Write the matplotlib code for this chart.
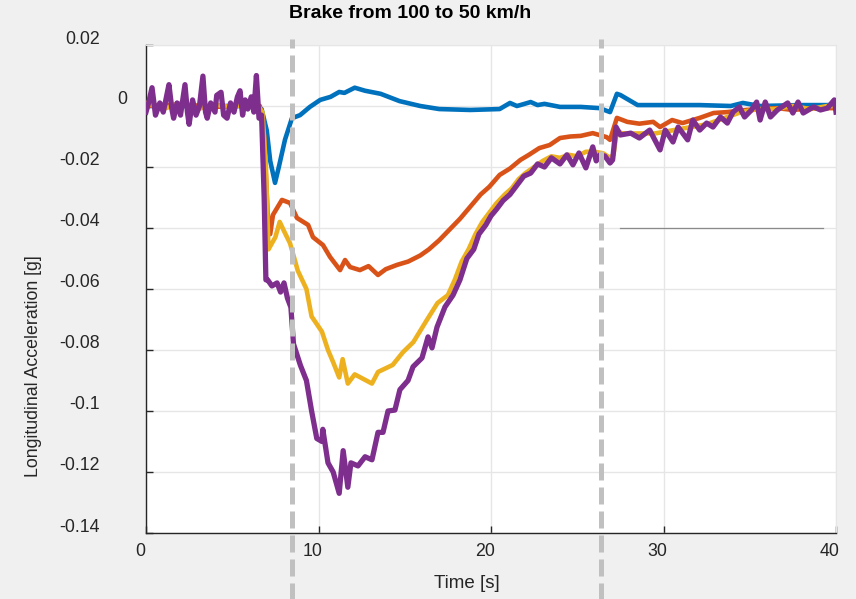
import matplotlib
matplotlib.use('Agg')
import matplotlib.pyplot as plt
import matplotlib.transforms as mtransforms

plt.rcParams['font.family'] = ['Liberation Sans', 'DejaVu Sans']

# ---- data ----
t_blue = [0, 3, 6.3, 6.7, 7.0, 7.2, 7.48, 7.7, 8.06, 8.46, 8.93, 9.5, 10.1, 10.7, 11.2,
          11.5, 12.1, 12.7, 13.6, 14.7, 15.9, 17.0, 18.8, 20.5, 21.1, 21.5, 21.7, 22.3,
          22.7, 23.1, 24.0, 25.2, 26.3, 26.9, 27.3, 27.5, 28.5, 29.8, 32.1, 33.9, 34.6,
          35.6, 37.9, 40]
g_blue = [0.0, 0.0, 0.0, -0.001, -0.008, -0.018, -0.0252, -0.020, -0.011, -0.004, -0.003,
          -0.0003, 0.002, 0.003, 0.0046, 0.0043, 0.006, 0.005, 0.004, 0.0016, 0.0, -0.001,
          -0.0013, -0.001, 0.001, 0.0, 0.0003, 0.0013, 0.0003, 0.0007, -0.0003, -0.0003,
          -0.0007, -0.002, 0.004, 0.0036, 0.0003, 0.0003, 0.0003, 0.0, 0.001, 0.0, 0.0003,
          0.0003]

t_orange = [0, 2, 4, 6, 6.6, 6.85, 7.05, 7.2, 7.36, 7.88, 8.35, 8.75, 9.4, 9.68, 10.26,
            10.67, 11.25, 11.54, 11.83, 12.4, 12.9, 13.45, 13.9, 14.55, 15.2, 15.9, 16.4,
            17.0, 17.6, 18.2, 18.8, 19.4, 19.9, 20.5, 21.1, 21.7, 22.2, 22.8, 23.4, 24.0,
            24.6, 25.2, 25.9, 26.7, 26.9, 27.3, 27.9, 28.6, 29.4, 29.8, 30.5, 31.1, 32.1,
            32.9, 33.7, 34.8, 35.7, 36.6, 37.5, 38.5, 39.5, 40]
g_orange = [0.0, 0.0005, -0.0003, 0.0003, 0.0, -0.01, -0.035, -0.042, -0.0357, -0.0308,
            -0.0318, -0.0367, -0.0390, -0.0430, -0.0456, -0.0495, -0.0538, -0.0505, -0.0528,
            -0.0538, -0.0525, -0.0554, -0.0535, -0.0521, -0.0510, -0.0490, -0.0470, -0.0440,
            -0.0405, -0.0370, -0.0330, -0.0290, -0.0265, -0.0226, -0.0205, -0.0177, -0.0160,
            -0.0138, -0.0128, -0.0105, -0.0100, -0.0098, -0.0089, -0.0102, -0.0111, -0.0039,
            -0.0052, -0.0058, -0.0052, -0.0069, -0.0046, -0.0056, -0.0039, -0.0023, -0.0020,
            -0.0013, -0.0010, -0.0007, -0.0013, -0.0008, -0.0007, -0.0007]

t_yellow = [0, 1, 2, 3, 4, 5, 6, 6.5, 6.75, 6.95, 7.1, 7.2, 7.5, 7.75, 8.0, 8.35, 8.8, 9.3,
            9.6, 10.2, 10.55, 10.85, 11.2, 11.4, 11.7, 12.1, 12.7, 13.1, 13.45, 14.3, 14.9,
            15.5, 16.3, 16.9, 17.5, 17.9, 18.3, 18.7, 19.1, 19.5, 19.9, 20.3, 20.8, 21.2,
            21.6, 22.0, 22.5, 23.0, 23.5, 24.0, 24.5, 25.0, 25.5, 26.0, 26.5, 26.9, 27.1,
            27.3, 27.6, 28.5, 29.5, 30.5, 31.5, 32.5, 33.5, 34.5, 35.5, 36.5, 37.5, 38.5,
            39.5, 40]
g_yellow = [0.001, -0.001, 0.001, -0.001, 0.0005, -0.0005, 0.001, 0.0, -0.002, -0.02, -0.047,
            -0.046, -0.043, -0.038, -0.041, -0.045, -0.054, -0.060, -0.069, -0.074, -0.080,
            -0.084, -0.089, -0.083, -0.091, -0.088, -0.0898, -0.091, -0.0872, -0.0849, -0.0807,
            -0.0774, -0.070, -0.0646, -0.062, -0.057, -0.051, -0.047, -0.042, -0.038, -0.035,
            -0.032, -0.029, -0.027, -0.024, -0.022, -0.020, -0.018, -0.0165, -0.017, -0.016,
            -0.0165, -0.015, -0.015, -0.0155, -0.017, -0.016, -0.008, -0.009, -0.009, -0.009,
            -0.008, -0.007, -0.006, -0.004, -0.002, -0.001, -0.001, 0.0, -0.001, 0.0, 0.0]

t_purple = [0, 0.15, 0.35, 0.55, 0.8, 1.0, 1.15, 1.33, 1.5, 1.6, 1.8, 2.0, 2.26, 2.4, 2.5,
            2.7, 2.9, 3.1, 3.3, 3.45, 3.55, 3.75, 4.0, 4.1, 4.35, 4.5, 4.7, 4.9, 5.1, 5.3,
            5.45, 5.6, 5.75, 5.9, 6.1, 6.25, 6.4, 6.55, 6.7, 6.85, 6.95, 7.05,
            7.3, 7.6, 7.8, 8.0, 8.2, 8.4, 8.55, 8.95, 9.3, 9.6, 9.9, 10.2, 10.25, 10.55,
            10.85, 11.2, 11.43, 11.7, 11.88, 12.29, 12.7, 13.1, 13.45, 13.74, 14.03, 14.43,
            14.72, 15.19, 15.48, 16.0, 16.35, 16.58, 16.87, 17.33, 17.8, 18.2, 18.6, 19.0,
            19.3, 19.7, 20.0, 20.3, 20.7, 21.1, 21.5, 21.9, 22.3, 22.7, 23.1, 23.5, 24.0,
            24.4, 24.75, 25.1, 25.5, 25.9, 26.1, 26.3, 26.6, 26.9, 27.05, 27.25, 27.5, 28.1,
            28.6, 29.2, 29.8, 30.1, 30.55, 30.85, 31.4, 31.7, 32.1, 32.5, 32.87, 33.3, 33.7,
            34.03, 34.4, 34.7, 35.1, 35.4, 35.6, 35.9, 36.2, 36.6, 37.2, 37.5, 37.8, 38.1,
            38.7, 39.1, 39.5, 39.9, 40.0]
g_purple = [-0.002, 0.001, 0.006, -0.003, 0.001, -0.002, 0.002, 0.007, -0.001, -0.004, 0.001,
            -0.003, 0.007, -0.002, -0.006, 0.002, -0.003, 0.0, 0.0098, -0.002, -0.004, 0.001,
            -0.002, 0.0035, 0.0045, -0.003, -0.004, 0.001, -0.002, 0.003, 0.005, -0.003,
            0.002, -0.001, 0.003, -0.002, 0.010, -0.004, -0.003, -0.03, -0.057, -0.057,
            -0.059, -0.058, -0.061, -0.058, -0.063, -0.066, -0.078, -0.085, -0.090, -0.100,
            -0.109, -0.110, -0.106, -0.117, -0.120, -0.127, -0.113, -0.125, -0.117, -0.118,
            -0.115, -0.116, -0.107, -0.107, -0.100, -0.0997, -0.093, -0.090, -0.0855, -0.0826,
            -0.0757, -0.0793, -0.0725, -0.0659, -0.062, -0.057, -0.050, -0.047, -0.042,
            -0.039, -0.036, -0.034, -0.031, -0.029, -0.026, -0.023, -0.022, -0.019, -0.020,
            -0.017, -0.019, -0.016, -0.0193, -0.0154, -0.0203, -0.0134, -0.018, -0.0161,
            -0.0164, -0.0187, -0.0177, -0.0069, -0.0095, -0.0089, -0.0105, -0.0079, -0.0144,
            -0.0079, -0.0118, -0.0069, -0.0111, -0.0046, -0.0079, -0.0056, -0.0069, -0.0036,
            -0.0056, -0.002, -0.0003, -0.0036, -0.0013, 0.0013, -0.0046, 0.0013, -0.0036,
            -0.0013, 0.001, -0.0023, 0.0013, -0.0023, -0.0003, -0.0013, -0.0007, 0.002,
            -0.002]

event_times = [8.46, 26.4]
ref_t = [27.5, 39.25]
ref_g = [-0.04, -0.04]

xticks = [0, 10, 20, 30, 40]
yticks = [0.02, 0, -0.02, -0.04, -0.06, -0.08, -0.1, -0.12, -0.14]
ytick_labels = ['0.02', '0', '-0.02', '-0.04', '-0.06', '-0.08', '-0.1', '-0.12', '-0.14']

# ---- figure ----
fig = plt.figure(figsize=(8.56, 5.99), dpi=100, facecolor='#f0f0f0')
ax = fig.add_axes([146/856, 1-533/599, 690/856, 488/599])
ax.set_facecolor('white')

ax.plot(t_blue, g_blue, color='#0072BD', lw=3.3, zorder=3)
ax.plot(t_orange, g_orange, color='#D95319', lw=3.3, zorder=3)
ax.plot(t_yellow, g_yellow, color='#EDB120', lw=3.3, zorder=3)
ax.plot(t_purple, g_purple, color='#7E2F8E', lw=3.8, zorder=3)
ax.plot(ref_t, ref_g, color='#8a8a8a', lw=0.9, zorder=3)

for te in event_times:
    ax.axvline(te, ymin=-0.14, ymax=1.012, color='#c0c0c0', lw=3.6,
               linestyle=(0, (3.4, 1.4)), clip_on=False, zorder=5)

ax.set_xlim(0, 40)
ax.set_ylim(-0.14, 0.02)
ax.set_xticks(xticks)
ax.set_yticks(yticks)
ax.set_yticklabels(ytick_labels)
ax.grid(True, color='#e6e6e6', lw=1.0)
ax.set_axisbelow(True)

for s in ['top', 'right']:
    ax.spines[s].set_color('#e6e6e6')
for s in ['left', 'bottom']:
    ax.spines[s].set_color('#262626')
    ax.spines[s].set_linewidth(1.0)

ax.tick_params(direction='in', length=5, width=1, color='#262626',
               labelsize=12.8, labelcolor='#262626')
ax.tick_params(axis='y', pad=33)
ax.tick_params(axis='x', pad=7)

# tick labels sit a little off their ticks in the original screenshot
dy = mtransforms.ScaledTranslation(0, 0.08, fig.dpi_scale_trans)
dx = mtransforms.ScaledTranslation(-0.06, 0, fig.dpi_scale_trans)
for lab in ax.get_yticklabels():
    shift = dy
    if lab.get_text() == '0':
        shift = mtransforms.ScaledTranslation(0.27, 0.08, fig.dpi_scale_trans)
    lab.set_transform(lab.get_transform() + shift)
for lab in ax.get_xticklabels():
    lab.set_transform(lab.get_transform() + dx)

fig.text(410/856, 1-13/599, 'Brake from 100 to 50 km/h', ha='center', va='center',
         fontsize=14, fontweight='bold', color='black')
fig.text(467/856, 1-583/599, 'Time [s]', ha='center', va='center',
         fontsize=13.5, color='#262626')
fig.text(34/856, 1-366/599, 'Longitudinal Acceleration [g]', ha='center', va='center',
         rotation=90, fontsize=12.8, color='#262626')

fig.savefig('out.png', dpi=100, facecolor=fig.get_facecolor())
